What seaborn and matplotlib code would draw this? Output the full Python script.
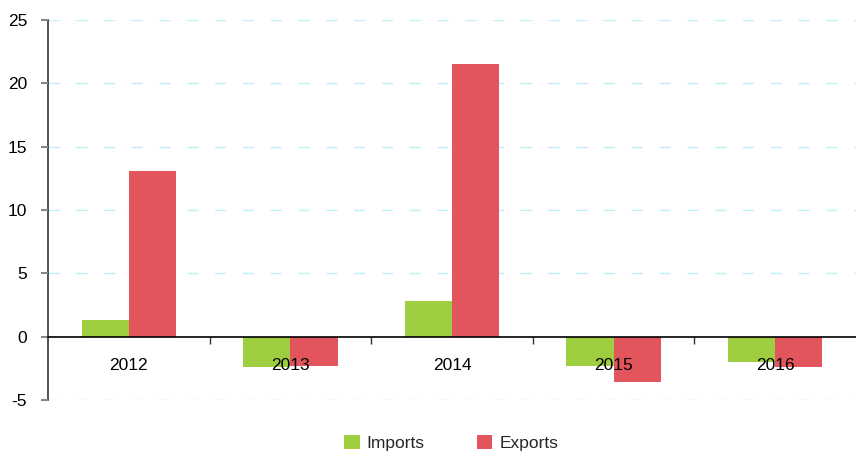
import pandas as pd
import matplotlib.pyplot as plt
import seaborn as sns
from matplotlib.ticker import FixedLocator

# 数据
years = ["2012", "2013", "2014", "2015", "2016"]
imports = [1.3, -2.4, 2.8, -2.3, -2.0]
exports = [13.1, -2.3, 21.5, -3.6, -2.4]
series_names = ["Imports", "Exports"]
colors = ["#9ECE3F", "#E3555C"]


def build_frame():
    rows = []
    for name, values in zip(series_names, [imports, exports]):
        for year, v in zip(years, values):
            rows.append({"year": year, "series": name, "value": v})
    return pd.DataFrame(rows)


def plot_chart(df, output_image):
    sns.set_theme(style="white")
    plt.rcParams["font.family"] = ["Liberation Sans", "DejaVu Sans"]
    plt.rcParams["axes.unicode_minus"] = False

    fig = plt.figure(figsize=(8.56, 4.54), dpi=100)
    ax = fig.add_axes([48 / 856, 1 - 400 / 454, 808 / 856, 380 / 454])

    sns.barplot(data=df, x="year", y="value", hue="series", palette=colors,
                width=0.585, gap=0, saturation=1, linewidth=0, ax=ax, zorder=1)

    ax.set_ylim(-5, 25)
    ax.set_xlim(-0.5, len(years) - 0.5)
    ax.set_yticks(range(-5, 26, 5))
    # 刻度标签画在柱子上面
    ax.set_axisbelow(False)

    # 网格线
    for y in range(-5, 26, 5):
        if y != 0:
            ax.axhline(y, color="#BDEFF7", linestyle=(0, (8, 12)), linewidth=1, zorder=0.5)

    # 坐标轴
    for side in ["top", "right"]:
        ax.spines[side].set_visible(False)
    ax.spines["left"].set_color("#333333")
    ax.spines["left"].set_linewidth(1.2)
    ax.spines["bottom"].set_position(("data", 0))
    ax.spines["bottom"].set_color("black")
    ax.spines["bottom"].set_linewidth(1.2)
    ax.spines["bottom"].set_zorder(4)

    ax.tick_params(axis="y", which="major", left=True, length=5, width=1.5,
                   color="#888888", labelsize=12.5, labelcolor="black", pad=10)
    ax.tick_params(axis="x", which="major", bottom=False, labelsize=12.5,
                   labelcolor="black", pad=9)
    ax.xaxis.set_minor_locator(FixedLocator([0.5, 1.5, 2.5, 3.5]))
    ax.tick_params(axis="x", which="minor", bottom=True, length=5, width=1,
                   color="#333333")

    ax.set_xlabel("")
    ax.set_ylabel("")

    # 图例
    handles, labels = ax.get_legend_handles_labels()
    ax.get_legend().remove()
    fig.legend(handles, labels, loc="center", bbox_to_anchor=(0.527, 0.024),
               ncol=2, frameon=False, fontsize=12.5, handlelength=0.9,
               handleheight=0.9, handletextpad=0.4, columnspacing=3.0,
               borderpad=0.1)

    fig.savefig(output_image, dpi=100)
    plt.close(fig)


def main():
    df = build_frame()
    plot_chart(df, "out.png")


if __name__ == "__main__":
    main()
